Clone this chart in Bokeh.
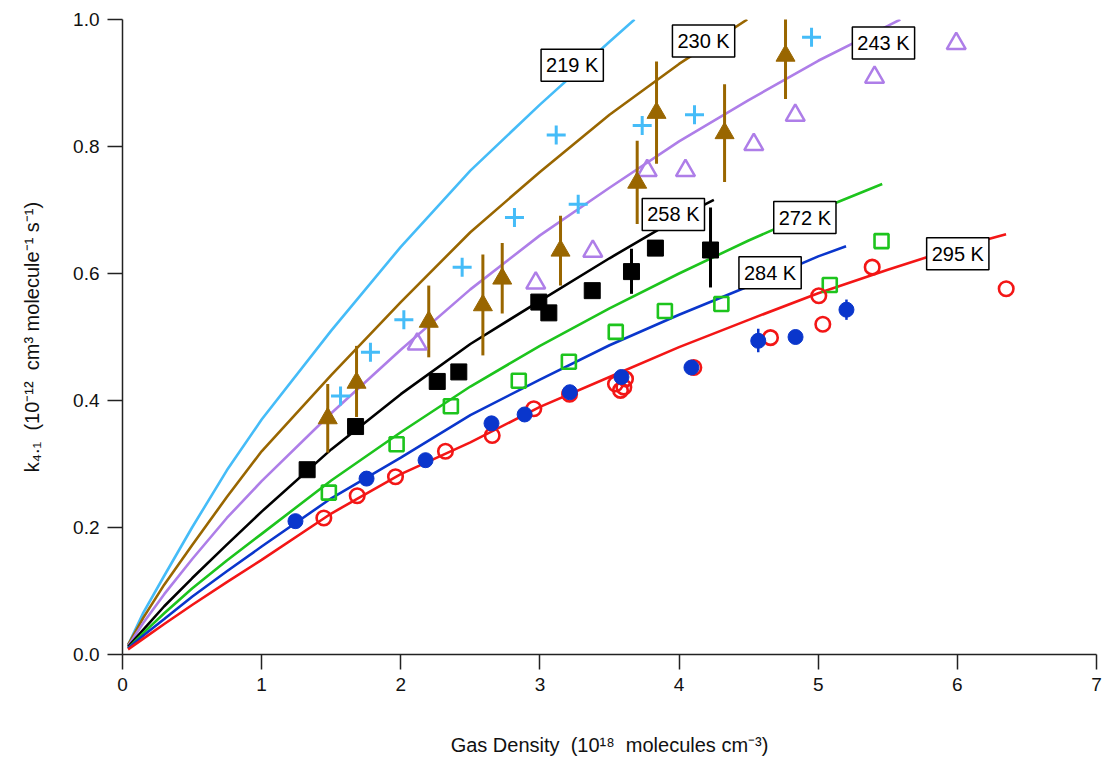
from bokeh.plotting import figure
from bokeh.models import Range1d, FixedTicker, Label, NumeralTickFormatter
from bokeh.embed import file_html
from bokeh.resources import INLINE

# ---------------- data ----------------
# model curves
c219_x = [0.04, 0.15, 0.3, 0.5, 0.75, 1.0, 1.5, 2.0, 2.5, 3.0, 3.5, 3.68]
c219_y = [0.015, 0.066, 0.124, 0.2, 0.29, 0.37, 0.51, 0.642, 0.762, 0.866, 0.965, 1.0]
c230_x = [0.04, 0.15, 0.3, 0.5, 0.75, 1.0, 1.5, 2.0, 2.5, 3.0, 3.5, 4.0, 4.49]
c230_y = [0.015, 0.058, 0.11, 0.172, 0.248, 0.32, 0.44, 0.555, 0.665, 0.76, 0.85, 0.93, 1.0]
c243_x = [0.04, 0.15, 0.3, 0.5, 0.75, 1.0, 1.5, 2.0, 2.5, 3.0, 3.5, 4.0, 4.5, 5.0, 5.5, 5.59]
c243_y = [0.013, 0.05, 0.095, 0.15, 0.215, 0.273, 0.38, 0.48, 0.575, 0.66, 0.735, 0.808,
          0.873, 0.935, 0.99, 1.0]
c258_x = [0.04, 0.15, 0.3, 0.5, 0.75, 1.0, 1.5, 2.0, 2.5, 3.0, 3.5, 4.0, 4.25]
c258_y = [0.012, 0.039, 0.076, 0.12, 0.173, 0.225, 0.323, 0.41, 0.489, 0.557, 0.624, 0.688, 0.716]
c272_x = [0.04, 0.15, 0.3, 0.5, 0.75, 1.0, 1.5, 2.0, 2.5, 3.0, 3.5, 4.0, 4.5, 5.0, 5.46]
c272_y = [0.01, 0.034, 0.065, 0.104, 0.148, 0.19, 0.274, 0.35, 0.422, 0.486, 0.545, 0.6,
          0.652, 0.7, 0.741]
c284_x = [0.04, 0.15, 0.3, 0.5, 0.75, 1.0, 1.5, 2.0, 2.5, 3.0, 3.5, 4.0, 4.5, 5.0, 5.2]
c284_y = [0.01, 0.03, 0.056, 0.091, 0.131, 0.17, 0.246, 0.31, 0.377, 0.433, 0.487, 0.535,
          0.58, 0.627, 0.643]
c295_x = [0.04, 0.15, 0.3, 0.5, 0.75, 1.0, 1.5, 2.0, 2.5, 3.0, 3.5, 4.0, 4.5, 5.0, 5.5, 6.0, 6.35]
c295_y = [0.008, 0.025, 0.048, 0.078, 0.114, 0.149, 0.222, 0.284, 0.334, 0.39, 0.437, 0.484,
          0.527, 0.569, 0.606, 0.641, 0.662]

# measurements
d219_x = [1.567, 1.782, 2.022, 2.441, 2.817, 3.117, 3.275, 3.735, 4.111, 4.952]
d219_y = [0.407, 0.476, 0.527, 0.61, 0.688, 0.818, 0.709, 0.833, 0.85, 0.972]

d230_x = [1.475, 1.682, 2.201, 2.59, 2.729, 3.148, 3.699, 3.838, 4.327, 4.765]
d230_y = [0.372, 0.428, 0.524, 0.55, 0.592, 0.636, 0.743, 0.853, 0.821, 0.943]
d230_lo = [0.318, 0.374, 0.468, 0.471, 0.537, 0.581, 0.678, 0.773, 0.744, 0.875]
d230_hi = [0.426, 0.486, 0.581, 0.63, 0.648, 0.691, 0.809, 0.934, 0.898, 1.005]

d243_x = [2.118, 2.97, 3.38, 3.771, 4.046, 4.537, 4.835, 5.405, 5.992]
d243_y = [0.489, 0.585, 0.635, 0.762, 0.762, 0.803, 0.849, 0.909, 0.962]

d258_x = [1.327, 1.675, 2.262, 2.417, 2.992, 3.064, 3.376, 3.658, 3.83, 4.226]
d258_y = [0.291, 0.359, 0.43, 0.445, 0.555, 0.538, 0.573, 0.603, 0.64, 0.637]
d258_lo = [0.291, 0.359, 0.43, 0.445, 0.555, 0.538, 0.573, 0.568, 0.64, 0.578]
d258_hi = [0.291, 0.359, 0.43, 0.445, 0.555, 0.538, 0.573, 0.639, 0.64, 0.704]

d272_x = [1.483, 1.97, 2.36, 2.848, 3.208, 3.545, 3.898, 4.304, 5.083, 5.455]
d272_y = [0.255, 0.331, 0.391, 0.431, 0.461, 0.508, 0.541, 0.552, 0.582, 0.651]

d284_x = [1.243, 1.754, 2.178, 2.652, 2.89, 3.215, 3.586, 4.089, 4.569, 4.837, 5.203]
d284_y = [0.21, 0.277, 0.306, 0.364, 0.378, 0.413, 0.437, 0.452, 0.494, 0.5, 0.543]
d284_lo = [0.21, 0.277, 0.306, 0.364, 0.378, 0.413, 0.437, 0.452, 0.476, 0.5, 0.527]
d284_hi = [0.21, 0.277, 0.306, 0.364, 0.378, 0.413, 0.437, 0.452, 0.513, 0.5, 0.559]

d295_x = [1.447, 1.687, 1.962, 2.321, 2.657, 2.956, 3.213, 3.543, 3.579, 3.603, 3.615,
          4.106, 4.657, 5.004, 5.033, 5.388, 6.351]
d295_y = [0.215, 0.25, 0.28, 0.32, 0.345, 0.387, 0.41, 0.426, 0.416, 0.421, 0.434,
          0.452, 0.499, 0.565, 0.52, 0.61, 0.576]

labels = ["219 K", "230 K", "243 K", "258 K", "272 K", "284 K", "295 K"]
label_x = [3.232, 4.176, 5.469, 3.959, 4.904, 4.654, 6.003]
label_y = [0.928, 0.966, 0.963, 0.693, 0.688, 0.601, 0.631]

x_ticks = [0, 1, 2, 3, 4, 5, 6, 7]
y_ticks = [0.0, 0.2, 0.4, 0.6, 0.8, 1.0]

# ---------------- style ----------------
C219 = "#45BCF8"
C230 = "#996600"
C243 = "#AE7EE8"
C258 = "#000000"
C272 = "#1DC41D"
C284 = "#0A36CC"
C295 = "#F31616"
FONT = "Liberation Sans"
NB = "\u00a0"

p = figure(width=1104, height=767, x_range=Range1d(0, 7), y_range=Range1d(0, 1.0),
           output_backend="svg", toolbar_location=None,
           min_border_left=122, min_border_right=8, min_border_top=19, min_border_bottom=113)
p.outline_line_color = None
p.xgrid.visible = False
p.ygrid.visible = False
p.background_fill_color = "white"
p.border_fill_color = "white"

for ax in (p.xaxis[0], p.yaxis[0]):
    ax.axis_line_color = "#222222"
    ax.axis_line_width = 1.5
    ax.major_tick_line_color = "#222222"
    ax.major_tick_line_width = 1.5
    ax.major_tick_out = 15
    ax.major_tick_in = 0
    ax.minor_tick_out = 0
    ax.minor_tick_in = 0
    ax.major_label_text_font = FONT
    ax.major_label_text_font_size = "19px"
    ax.major_label_text_color = "#111111"
    ax.axis_label_text_font = FONT
    ax.axis_label_text_font_size = "20px"
    ax.axis_label_text_font_style = "normal"
    ax.axis_label_text_color = "#111111"
    ax.major_label_standoff = 8

p.xaxis.ticker = FixedTicker(ticks=x_ticks)
p.yaxis.ticker = FixedTicker(ticks=y_ticks)
p.yaxis.formatter = NumeralTickFormatter(format="0.0")
p.xaxis.axis_label = "Gas Density" + NB + " (10\u00b9\u2078" + NB + " molecules cm\u207b\u00b3)"
p.yaxis.axis_label = ("k\u2084.\u2081" + NB + " (10\u207b\u00b9\u00b2" + NB +
                      " cm\u00b3 molecule\u207b\u00b9 s\u207b\u00b9)")
p.xaxis.axis_label_standoff = 40
p.yaxis.axis_label_standoff = 27

LW = 2.6
for xs, ys, c in [(c219_x, c219_y, C219), (c230_x, c230_y, C230), (c243_x, c243_y, C243),
                  (c258_x, c258_y, C258), (c272_x, c272_y, C272), (c284_x, c284_y, C284),
                  (c295_x, c295_y, C295)]:
    p.line(xs, ys, line_color=c, line_width=LW)

# error bars
p.segment(x0=d230_x, y0=d230_lo, x1=d230_x, y1=d230_hi, line_color=C230, line_width=3)
p.segment(x0=d258_x, y0=d258_lo, x1=d258_x, y1=d258_hi, line_color=C258, line_width=3)
p.segment(x0=d284_x, y0=d284_lo, x1=d284_x, y1=d284_hi, line_color=C284, line_width=2.5)

# markers
p.scatter(d243_x, d243_y, marker="triangle", size=19, fill_color=None,
          line_color=C243, line_width=2.5)
p.scatter(d219_x, d219_y, marker="cross", size=19, line_color=C219, line_width=3)
p.scatter(d230_x, d230_y, marker="triangle", size=19, fill_color=C230, line_color=C230)
p.scatter(d258_x, d258_y, marker="square", size=16, fill_color=C258, line_color=C258)
p.scatter(d272_x, d272_y, marker="square", size=14, fill_color=None,
          line_color=C272, line_width=2.6)
p.scatter(d295_x, d295_y, marker="circle", size=14.5, fill_color=None,
          line_color=C295, line_width=2.6)
p.scatter(d284_x, d284_y, marker="circle", size=15, fill_color=C284, line_color=C284)

for t, lx, ly in zip(labels, label_x, label_y):
    p.add_layout(Label(x=lx, y=ly, text=t, text_align="center", text_baseline="middle",
                       text_font=FONT, text_font_size="20px", text_color="black",
                       border_line_color="black", border_line_width=1.5,
                       background_fill_color="white", background_fill_alpha=1.0,
                       padding=5))

open("out.html", "w").write(file_html(p, INLINE))
